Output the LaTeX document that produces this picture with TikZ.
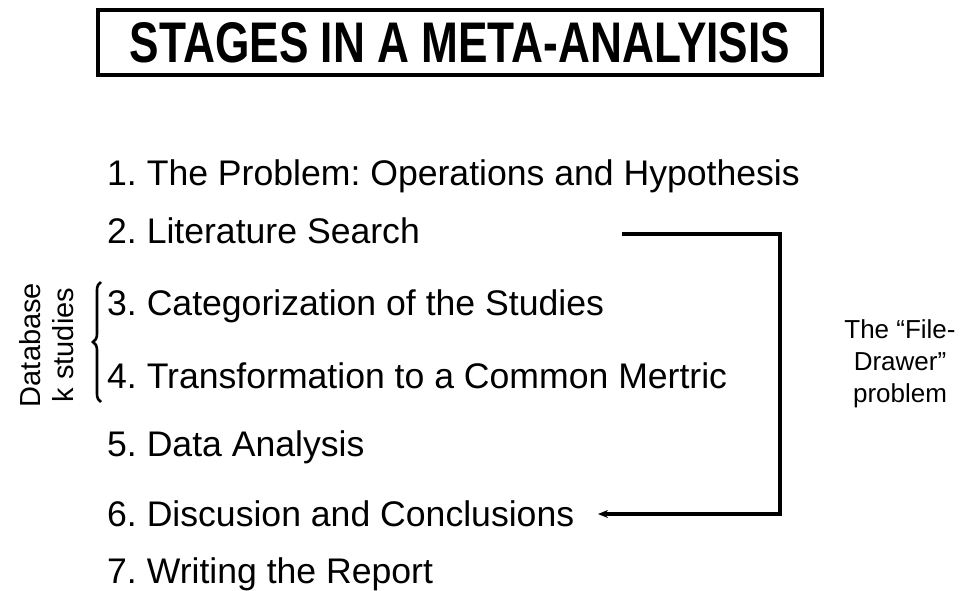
\documentclass[tikz,border=0pt]{standalone}
\usepackage{fontspec}
\setmainfont{Liberation Sans}
\usetikzlibrary{decorations.pathreplacing,arrows.meta}
\frenchspacing
\begin{document}
\begin{tikzpicture}[x=1pt,y=-1pt,
  item/.style={anchor=base west,inner sep=0pt,font=\fontsize{35.6}{40}\selectfont},
  side/.style={align=center,inner sep=0pt,font=\fontsize{26}{32}\selectfont},
  conn/.style={line width=3.2pt},
]
\useasboundingbox (0,0) rectangle (968,590);
\node[draw,line width=3.2pt,minimum width=724pt,minimum height=65pt,inner sep=0pt] (title) at (460,42.5)
  {\resizebox{660pt}{40pt}{\bfseries STAGES IN A META-ANALYISIS}};
\node[item] (s1) at (107,185) {1. The Problem: Operations and Hypothesis};
\node[item] (s2) at (107,243) {2. Literature Search};
\node[item] (s3) at (107,315) {3. Categorization of the Studies};
\node[item] (s4) at (107,388) {4. Transformation to a Common Mertric};
\node[item] (s5) at (107,456) {5. Data Analysis};
\node[item] (s6) at (107,526) {6. Discusion and Conclusions};
\node[item] (s7) at (107,583) {7. Writing the Report};
\node[side] (fd) at (900,364) {The “File-\\Drawer”\\problem};
\node[inner sep=0pt,rotate=90,align=center,font=\fontsize{29}{33}\selectfont] (db) at (47,345) {Database\\k studies};
\coordinate (a0) at (622,234);
\coordinate (a1) at (780,234);
\coordinate (a2) at (780,514);
\coordinate (a3) at (598,514);
\draw[conn,-{Stealth[length=10pt,width=8pt]}] (a0) -- (a1) -- (a2) -- (a3);
\coordinate (b0) at (101,402);
\coordinate (b1) at (101,282);
\draw[line width=2.6pt,decorate,decoration={brace,amplitude=8pt}] (b0) -- (b1);
\end{tikzpicture}
\end{document}
